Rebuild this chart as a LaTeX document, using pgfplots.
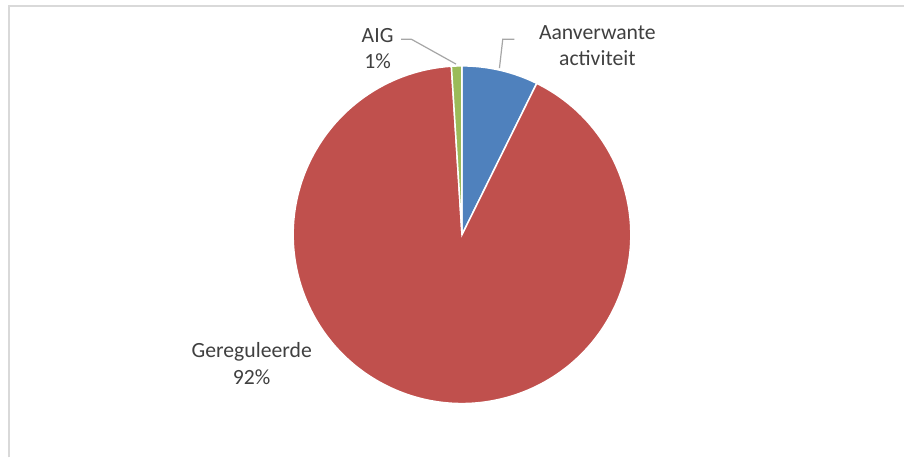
\documentclass[border=0pt]{standalone}
\usepackage{fontspec}
\setmainfont{Carlito}
\usepackage{pgfplots}
\pgfplotsset{compat=1.18}
\usepackage{pgfplotstable}

\definecolor{pieBlue}{HTML}{4F81BD}
\definecolor{pieRed}{HTML}{C0504D}
\definecolor{pieGreen}{HTML}{9BBB59}
\definecolor{labelGray}{HTML}{404040}
\definecolor{leaderGray}{HTML}{A6A6A6}
\definecolor{frameGray}{HTML}{D9D9D9}

% share in percent, clockwise from the top
\pgfplotstableread{
label value
Aanverwante 7.3
Gereguleerde 91.7
AIG 1.0
}\piedata

\pgfplotstablegetelem{0}{value}\of\piedata \let\vA\pgfplotsretval
\pgfplotstablegetelem{1}{value}\of\piedata \let\vB\pgfplotsretval
\pgfplotstablegetelem{2}{value}\of\piedata \let\vC\pgfplotsretval
\pgfmathsetmacro\aStart{90}
\pgfmathsetmacro\aA{90-3.6*\vA}
\pgfmathsetmacro\aB{\aA-3.6*\vB}
\pgfmathsetmacro\aC{\aB-3.6*\vC}
\def\rad{84.5pt}

\begin{document}
\begin{tikzpicture}
\begin{axis}[
  scale only axis,
  width=452.5pt, height=228.5pt,
  xmin=0, xmax=905, ymin=0, ymax=457,
  y dir=reverse,
  hide axis,
  clip=false,
]
  \fill[white] (axis cs:0,0) rectangle (axis cs:905,457);
  \draw[frameGray, line width=1pt] (axis cs:9,457) -- (axis cs:9,6) -- (axis cs:905,6);

  % slices
  \filldraw[fill=pieBlue, draw=white, line width=0.75pt]
    (axis cs:462.5,234.5) -- ++(\aStart:\rad) arc[start angle=\aStart, end angle=\aA, radius=\rad] -- cycle;
  \filldraw[fill=pieRed, draw=white, line width=0.75pt]
    (axis cs:462.5,234.5) -- ++(\aA:\rad) arc[start angle=\aA, end angle=\aB, radius=\rad] -- cycle;
  \filldraw[fill=pieGreen, draw=white, line width=0.75pt]
    (axis cs:462.5,234.5) -- ++(\aB:\rad) arc[start angle=\aB, end angle=\aC, radius=\rad] -- cycle;

  % leader lines
  \draw[leaderGray, line width=0.6pt] (axis cs:401.5,39.3) -- (axis cs:412,39.3) -- (axis cs:456.5,64);
  \draw[leaderGray, line width=0.6pt] (axis cs:515,39.3) -- (axis cs:503.3,39.3) -- (axis cs:500,68);

  % labels
  \begin{scope}[every node/.style={anchor=base, text=labelGray, inner sep=0pt,
      font=\fontsize{10.85}{13}\selectfont}]
    \node at (axis cs:378,42.3) {AIG};
    \node at (axis cs:378,68.5) {1\%};
    \node at (axis cs:598,39.3) {Aanverwante};
    \node at (axis cs:598,65.3) {activiteit};
    \node at (axis cs:252,356.7) {Gereguleerde};
    \node at (axis cs:252,384) {92\%};
  \end{scope}
\end{axis}
\end{tikzpicture}
\end{document}
